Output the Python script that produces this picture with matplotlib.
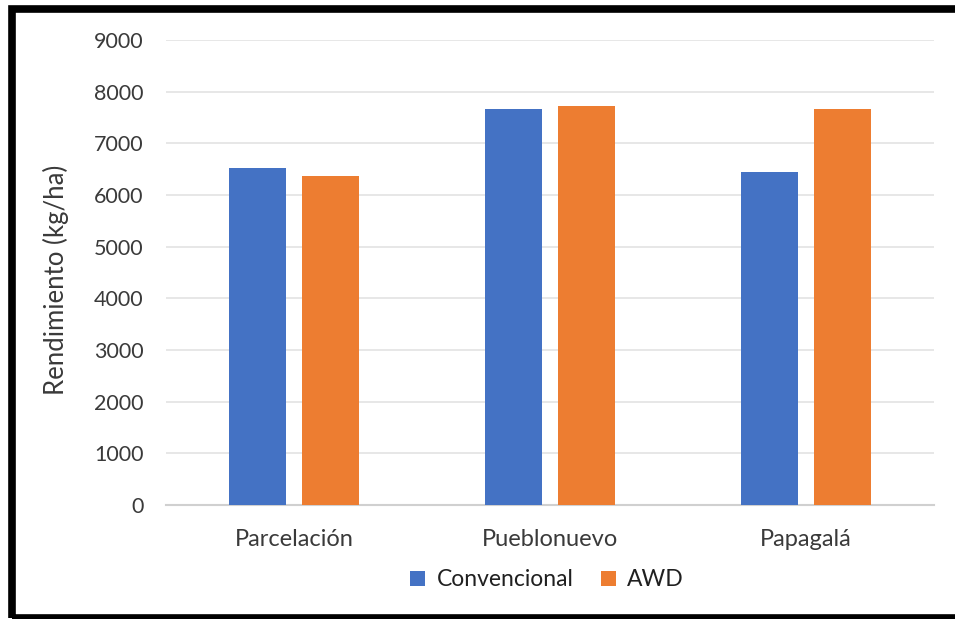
import numpy as np
import matplotlib
matplotlib.use('Agg')
import matplotlib.pyplot as plt
from matplotlib.patches import Rectangle

# ─────────────────────────────────────────────────────────────────
# Data
# ─────────────────────────────────────────────────────────────────
sites = ['Parcelación', 'Pueblonuevo', 'Papagalá']
convencional = [6520, 7660, 6440]
awd = [6370, 7715, 7660]
yticks = [0, 1000, 2000, 3000, 4000, 5000, 6000, 7000, 8000, 9000]

BLUE = '#4472C4'
ORANGE = '#ED7D31'
TEXT = '#3A3A3A'
GRID = '#E3E3E3'

plt.rcParams['font.family'] = ['Lato', 'DejaVu Sans']

W, H = 955, 619
fig = plt.figure(figsize=(W / 100, H / 100), dpi=100)
ax = fig.add_axes([166 / W, 1 - 505 / H, (934 - 166) / W, (505 - 40) / H])

x = np.arange(len(sites))
bw = 0.224
off = 0.143
ax.bar(x - off, convencional, bw, color=BLUE, label='Convencional', zorder=3)
ax.bar(x + off, awd, bw, color=ORANGE, label='AWD', zorder=3)

ax.set_xlim(-0.5, len(sites) - 0.5)
ax.set_ylim(0, 9000)
ax.set_yticks(yticks)
ax.set_yticklabels([str(v) for v in yticks])
ax.set_xticks(x)
ax.set_xticklabels(sites)
ax.tick_params(axis='y', length=0, pad=16, labelsize=15.5, labelcolor=TEXT)
ax.tick_params(axis='x', length=0, pad=17, labelsize=17, labelcolor=TEXT)
ax.grid(axis='y', color=GRID, linewidth=1.2, zorder=0)
for s in ['top', 'right', 'left']:
    ax.spines[s].set_visible(False)
ax.spines['bottom'].set_color('#D0D0D0')
ax.spines['bottom'].set_linewidth(1.5)

ax.set_ylabel('Rendimiento (kg/ha)', fontsize=18.5, color=TEXT)
ax.yaxis.set_label_coords((69 - 166) / (934 - 166), 0.484)

fig.legend(loc='center', bbox_to_anchor=(547 / W, 1 - 580 / H), ncol=2,
           frameon=False, fontsize=16.5, handlelength=0.65, handleheight=0.65,
           handletextpad=0.5, columnspacing=1.2, labelcolor='#202020')

# black outer frame (cropped on the right)
frame = Rectangle((12 / W, 1 - 618 / H), 1.2, (618 - 8.5) / H,
                  transform=fig.transFigure, fill=False,
                  edgecolor='black', linewidth=5.5, clip_on=False)
fig.patches.append(frame)

fig.savefig('out.png', dpi=100, facecolor='white')
